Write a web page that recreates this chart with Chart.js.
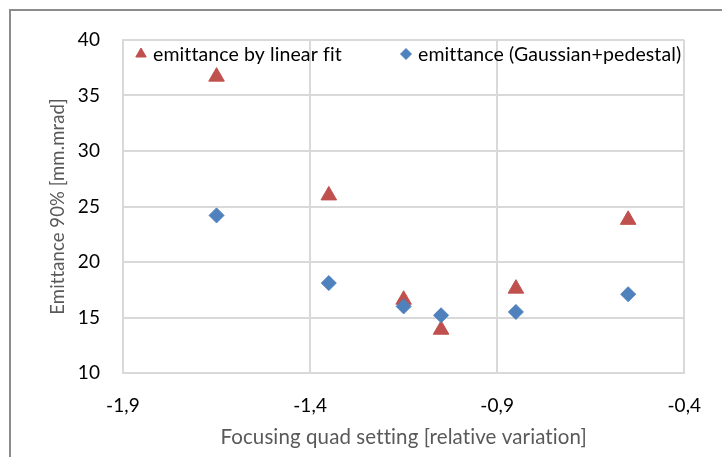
<!DOCTYPE html>
<html>
<head>
<meta charset="utf-8">
<script src="https://cdn.jsdelivr.net/npm/chart.js@4/dist/chart.umd.min.js"></script>
<style>
  html, body { margin: 0; padding: 0; background: #fff; }
  #wrap { position: relative; width: 722px; height: 457px; overflow: hidden; background: #fff; }
  #frame { position: absolute; left: 9px; top: 9px; width: 800px; height: 800px;
           border-left: 2px solid #8c8c8c; border-top: 2px solid #8c8c8c; }
  #c { position: absolute; left: 0; top: 0; }
</style>
</head>
<body>
<div id="wrap">
  <div id="frame"></div>
  <canvas id="c" width="722" height="457"></canvas>
</div>
<script>
// ---- data ----
const xValues      = [-1.65, -1.35, -1.15, -1.05, -0.85, -0.55];
const linearFit    = [36.7, 26.0, 16.6, 13.9, 17.6, 23.8];
const gaussPed     = [24.2, 18.1, 16.0, 15.2, 15.5, 17.1];
const seriesLabels = ['emittance by linear fit', 'emittance (Gaussian+pedestal)'];
const xTickValues  = [-1.9, -1.4, -0.9, -0.4];
const xTickLabels  = ['-1,9', '-1,4', '-0,9', '-0,4'];
const yTickValues  = [10, 15, 20, 25, 30, 35, 40];
const xTitle = 'Focusing quad setting [relative variation]';
const yTitle = 'Emittance 90% [mm.mrad]';

const RED = '#C0504D';
const BLUE = '#4F81BD';
const FONT = 'Lato';

const toPoints = (ys) => xValues.map((x, i) => ({ x: x, y: ys[i] }));

// switch off ligatures (tiny letter spacing) so "tt"/"ti" render as plain letters
const noLigatures = {
  id: 'noLigatures',
  beforeDraw(chart) { try { chart.ctx.letterSpacing = '0.1px'; } catch (e) {} }
};

// legend drawn inside the plot area (as in the reference)
const insideLegend = {
  id: 'insideLegend',
  afterDatasetsDraw(chart) {
    const { ctx, chartArea } = chart;
    const items = [
      { ds: 0, dx: 18, r: 6 },
      { ds: 1, dx: 283, r: 5.5 }
    ];
    ctx.save();
    try { ctx.letterSpacing = '0.1px'; } catch (e) {}
    ctx.font = '19.5px ' + FONT;
    ctx.textBaseline = 'middle';
    ctx.textAlign = 'left';
    const y = chartArea.top + 14;
    items.forEach(it => {
      const ds = chart.data.datasets.find(d => d.legendIndex === it.ds);
      const x = chartArea.left + it.dx;
      ctx.fillStyle = ds.backgroundColor;
      ctx.strokeStyle = ds.borderColor;
      ctx.lineWidth = 1;
      Chart.helpers.drawPoint(ctx, { pointStyle: ds.pointStyle, radius: it.r, rotation: 0, borderWidth: 1 }, x, y);
      ctx.fillStyle = '#000';
      ctx.fillText(ds.label, x + 12, y + 1);
    });
    ctx.restore();
  }
};

new Chart(document.getElementById('c'), {
  type: 'scatter',
  data: {
    datasets: [
      {
        label: seriesLabels[1], legendIndex: 1, data: toPoints(gaussPed), order: 0,
        pointStyle: 'rectRot', pointRadius: 7.5, pointHoverRadius: 7.5,
        backgroundColor: BLUE, borderColor: BLUE, borderWidth: 1
      },
      {
        label: seriesLabels[0], legendIndex: 0, data: toPoints(linearFit), order: 1,
        pointStyle: 'triangle', pointRadius: 9, pointHoverRadius: 9,
        backgroundColor: RED, borderColor: RED, borderWidth: 1
      }
    ]
  },
  options: {
    responsive: false,
    animation: false,
    devicePixelRatio: 1,
    layout: { padding: { left: 0, top: 40, right: 33, bottom: 0 } },
    plugins: { legend: { display: false }, tooltip: { enabled: false } },
    scales: {
      x: {
        type: 'linear', min: -1.9, max: -0.4,
        afterBuildTicks: (s) => { s.ticks = xTickValues.map(v => ({ value: v })); },
        afterFit: (s) => { s.height = 84; },
        grid: { color: '#d9d9d9', lineWidth: 2, drawTicks: false },
        border: { color: '#d9d9d9', width: 2 },
        ticks: {
          padding: 21, color: '#000', font: { family: FONT, size: 19 },
          maxRotation: 0, autoSkip: false,
          callback: (v, i) => xTickLabels[i]
        },
        title: {
          display: true, text: xTitle, color: '#595959',
          font: { family: FONT, size: 20.5 }, padding: { top: 0, bottom: 7 }
        }
      },
      y: {
        type: 'linear', min: 10, max: 40,
        afterBuildTicks: (s) => { s.ticks = yTickValues.map(v => ({ value: v })); },
        afterFit: (s) => { s.width = 123; },
        grid: { color: '#d9d9d9', lineWidth: 2, drawTicks: false },
        border: { color: '#d9d9d9', width: 2 },
        ticks: {
          padding: 23, color: '#000', font: { family: FONT, size: 19 },
          callback: (v) => String(v)
        },
        title: {
          display: true, text: yTitle, color: '#595959',
          font: { family: FONT, size: 18.5 }, padding: { top: 47, bottom: 0 }
        }
      }
    }
  },
  plugins: [noLigatures, insideLegend]
});
</script>
</body>
</html>
